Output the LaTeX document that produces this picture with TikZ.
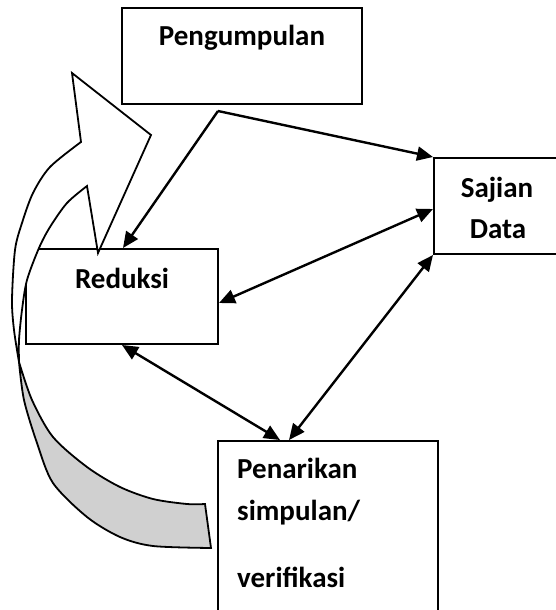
\documentclass[tikz,border=0pt]{standalone}
\usepackage{fontspec}
\setmainfont{Carlito}
\usetikzlibrary{arrows.meta,calc}
\definecolor{backgray}{RGB}{208,208,208}
\begin{document}
\begin{tikzpicture}[x=1pt,y=-1pt,
  box/.style={draw=black,line width=2pt,fill=white,inner sep=0pt},
  lbl/.style={inner sep=0pt,font=\fontsize{29}{34}\selectfont\bfseries},
  tipA/.tip={Triangle[length=16pt,width=14pt]},
  conn/.style={line width=2.4pt,-tipA},
  conn2/.style={line width=2.4pt,tipA-tipA},
  ribbon/.style={draw=black,line width=1.8pt,line join=miter}]
\useasboundingbox (0,0) rectangle (556,610);
\clip (0,0) rectangle (556,610);
% boxes
\node[box,minimum width=240pt,minimum height=96pt] (peng) at (242,56) {};
\node[box,minimum width=192pt,minimum height=95pt] (red) at (122,296.5) {};
\node[box,minimum width=126pt,minimum height=96pt] (saj) at (497,206) {};
\node[box,minimum width=220pt,minimum height=179pt] (pen) at (328,530.5) {};
% texts
\node[lbl,anchor=base] (pengT) at (242,46) {Pengumpulan};
\node[lbl,anchor=base] (redT) at (122,288) {Reduksi};
\node[lbl,anchor=base] (sajT1) at (497,197) {Sajian};
\node[lbl,anchor=base] (sajT2) at (498,238) {Data};
\node[lbl,anchor=base west] (penT1) at (237,478) {Penarikan};
\node[lbl,anchor=base west] (penT2) at (237,520) {simpulan/};
\node[lbl,anchor=base west] (penT3) at (237,587) {verifikasi};
% curved block arrow: back (gray) part
\path[ribbon,fill=backgray]
  plot[smooth] coordinates {(19,362) (32,400) (53,437) (87,467) (120,487) (153,499) (187,504) (205,504)}
  -- (211,548)
  -- plot[smooth] coordinates {(211,548) (153,546) (120,537) (87,517) (53,483) (37,443) (24,400) (19,362)}
  -- cycle;
% front (white) part
\path[ribbon,fill=white]
  plot[smooth] coordinates {(19,362) (14,330) (12,300) (15,250) (22,223) (33,193) (50,167) (81,142)}
  -- (72,73) -- (151,135) -- (98,253) -- (87,186)
  -- plot[smooth] coordinates {(87,186) (67,203) (50,227) (39,248) (27,280) (22,310) (19,340) (19,362)}
  -- cycle;
% connectors
\coordinate (split) at (218,111);
\draw[conn] (split) -- ($(red.north)+(1,0)$);
\draw[conn] (split) -- (saj.north west);
\draw[conn2] ($(red.east)+(0,6.5)$) -- ($(saj.west)+(0,3)$);
\draw[conn2] (red.south) -- ($(pen.north west)+(63,0)$);
\draw[conn2] (saj.south west) -- ($(pen.north west)+(72,0)$);
\end{tikzpicture}
\end{document}
